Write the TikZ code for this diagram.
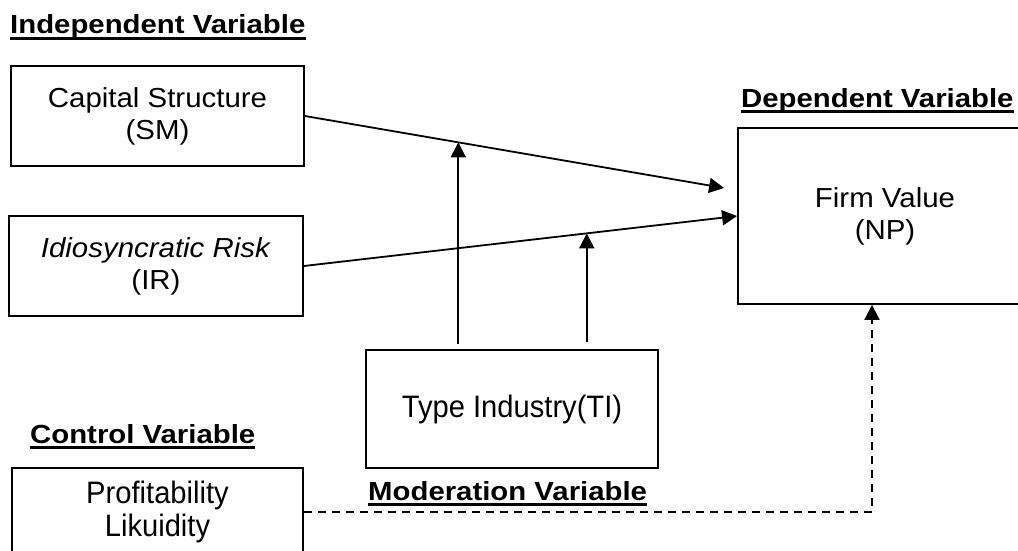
\documentclass[tikz,border=0pt]{standalone}
\usepackage{fontspec}
\setmainfont{Liberation Sans}
\newfontfamily\widefont[FakeStretch=1.07]{Liberation Sans}
\newfontfamily\headfont[FakeStretch=1.12]{Liberation Sans}
\newfontfamily\tallfont[FakeStretch=0.94]{Liberation Sans}
\usepackage{tikz}
\usetikzlibrary{arrows.meta, calc, positioning}

\tikzset{
  varbox/.style={draw, line width=1.8pt, inner sep=0pt, align=center,
    font=\widefont\fontsize{27.5}{32}\selectfont},
  lowbox/.style={varbox, font=\tallfont\fontsize{31}{33}\selectfont},
  heading/.style={anchor=base west, inner sep=0pt,
    font=\headfont\bfseries\fontsize{26.2}{30}\selectfont},
  uline/.style={line width=3.5pt},
  arr/.style={line width=1.8pt, -{Triangle[length=15pt,width=15pt]}},
  dasharr/.style={arr, dash pattern=on 8pt off 6pt}
}

\begin{document}
\begin{tikzpicture}[x=1pt,y=-1pt]
\clip (0,0) rectangle (1018,551);
\useasboundingbox (0,0) rectangle (1018,551);

\node[varbox, minimum width=293pt, minimum height=100pt] (sm) at (157.5,116)
  {Capital Structure\\(SM)};
\node[varbox, minimum width=294pt, minimum height=100pt] (ir) at (156,266)
  {\textit{Idiosyncratic Risk}\\(IR)};
\node[varbox, minimum width=294pt, minimum height=176pt] (fv) at (885,216)
  {Firm Value\\(NP)};
\node[lowbox, minimum width=292pt, minimum height=118pt] (ti) at (512,409)
  {Type Industry(TI)};
\node[lowbox, minimum width=291pt, minimum height=88pt] (ctrl) at (157.5,512)
  {Profitability\\Likuidity};

\node[heading] (indep) at (10,34) {Independent Variable};
\node[heading] (dep) at (741,107) {Dependent Variable};
\node[heading] (contr) at (30,443) {Control Variable};
\node[heading] (moder) at (368,500) {Moderation Variable};
\foreach \h in {indep,dep,contr,moder}
  \draw[uline] ([yshift=-4.5pt]\h.base west) -- ([yshift=-4.5pt]\h.base east);

\path coordinate (fvtip) at ([shift={(-13pt,28pt)}]fv.west)
      coordinate (m1) at ($(sm.east)!0.366!(fvtip)$)
      coordinate (m2) at ($(ir.east)!0.653!(fv.west)$);

\draw[arr] (sm.east) -- (fvtip);
\draw[arr] (ir.east) -- (fv.west);
\draw[arr] ([yshift=5pt]m1 |- ti.north) -- (m1);
\draw[arr] ([yshift=7pt]m2 |- ti.north) -- (m2);
\draw[dasharr] (ctrl.east) -| ([xshift=-13pt]fv.south);
\end{tikzpicture}
\end{document}
